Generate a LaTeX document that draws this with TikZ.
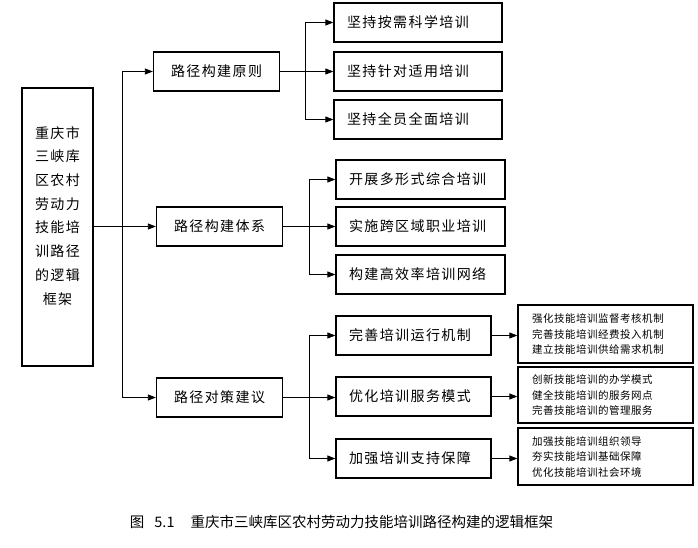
\documentclass[tikz,border=0pt]{standalone}
\usepackage{fontspec}
\newfontfamily\cjk[LetterSpace=10]{Noto Sans CJK SC}
\newfontfamily\cjksmall[LetterSpace=5]{Noto Sans CJK SC}
\newfontfamily\cjkcap{Noto Sans CJK SC}
\usetikzlibrary{arrows.meta}

\begin{document}
\begin{tikzpicture}[x=1pt,y=-1pt,
    box/.style={draw, line width=1.3pt, inner sep=0pt, minimum height=39pt,
      font=\cjk\fontsize{14}{16}\selectfont},
    mainbox/.style={box, minimum width=126pt},
    subbox/.style={box, align=left, inner xsep=13pt, text width=#1},
    notebox/.style={draw, line width=1.3pt, inner xsep=14pt, inner ysep=0pt,
      text width=147pt, align=left, font=\cjksmall\fontsize{10.5}{15.5}\selectfont},
    arr/.style={-{Triangle[length=8pt,width=6pt]}, line width=0.8pt},
    link/.style={line width=0.8pt}]
    \useasboundingbox (0,0) rectangle (698,548);

    % root
    \node[box, minimum width=71pt, minimum height=278pt, align=center,
      font=\cjk\fontsize{14}{23.7}\selectfont] (root) at (57.5,227)
      {重庆市\\三峡库\\区农村\\劳动力\\技能培\\训路径\\的逻辑\\框架\\~};

    % second level
    \node[mainbox] (p1) at (216.5,71.5) {路径构建原则};
    \node[mainbox] (p2) at (219.5,226.5) {路径构建体系};
    \node[mainbox] (p3) at (219.5,397.5) {路径对策建议};

    % third level
    \node[subbox=142pt] (g1a) at (418,22.5) {坚持按需科学培训};
    \node[subbox=142pt] (g1b) at (418,71.5) {坚持针对适用培训};
    \node[subbox=142pt] (g1c) at (418,119.5) {坚持全员全面培训};

    \node[subbox=143pt] (g2a) at (420.5,179.5) {开展多形式综合培训};
    \node[subbox=143pt] (g2b) at (420.5,226.5) {实施跨区域职业培训};
    \node[subbox=143pt] (g2c) at (420.5,274.5) {构建高效率培训网络};

    \node[subbox=129pt] (g3a) at (413.5,335.5) {完善培训运行机制};
    \node[subbox=129pt] (g3b) at (413.5,396.5) {优化培训服务模式};
    \node[subbox=129pt] (g3c) at (413.5,458.5) {加强培训支持保障};

    % notes
    \node[notebox, minimum height=58pt] (n1) at (605.5,334)
      {强化技能培训监督考核机制\\完善技能培训经费投入机制\\建立技能培训供给需求机制};
    \node[notebox, minimum height=56pt] (n2) at (605.5,395)
      {创新技能培训的办学模式\\健全技能培训的服务网点\\完善技能培训的管理服务};
    \node[notebox, minimum height=57pt] (n3) at (605.5,456.5)
      {加强技能培训组织领导\\夯实技能培训基础保障\\优化技能培训社会环境};

    % trunks
    \coordinate (t0) at (122,0);
    \coordinate (t1) at (305,0);
    \coordinate (t2) at (309,0);

    \draw[arr] (root.east |- p2.west) -- (p2.west);
    \draw[link] (t0 |- p1.west) -- (t0 |- p3.west);
    \draw[arr] (t0 |- p1.west) -- (p1.west);
    \draw[arr] (t0 |- p3.west) -- (p3.west);

    \draw[arr] (p1.east) -- (p1.east -| g1b.west);
    \draw[link] (t1 |- g1a.west) -- (t1 |- g1c.west);
    \draw[arr] (t1 |- g1a.west) -- (g1a.west);
    \draw[arr] (t1 |- g1c.west) -- (g1c.west);

    \draw[arr] (p2.east) -- (p2.east -| g2b.west);
    \draw[link] (t2 |- g2a.west) -- (t2 |- g2c.west);
    \draw[arr] (t2 |- g2a.west) -- (g2a.west);
    \draw[arr] (t2 |- g2c.west) -- (g2c.west);

    \draw[arr] (p3.east) -- (p3.east -| g3b.west);
    \draw[link] (t2 |- g3a.west) -- (t2 |- g3c.west);
    \draw[arr] (t2 |- g3a.west) -- (g3a.west);
    \draw[arr] (t2 |- g3c.west) -- (g3c.west);

    \draw[arr] (g3a.east) -- (g3a.east -| n1.west);
    \draw[arr] (g3b.east) -- (g3b.east -| n2.west);
    \draw[arr] (g3c.east) -- (g3c.east -| n3.west);

    % caption
    \node[font=\cjkcap\fontsize{14.5}{16}\selectfont] (cap) at (341.5,522)
      {图\hspace{10pt}5.1\hspace{16pt}重庆市三峡库区农村劳动力技能培训路径构建的逻辑框架};
\end{tikzpicture}
\end{document}
